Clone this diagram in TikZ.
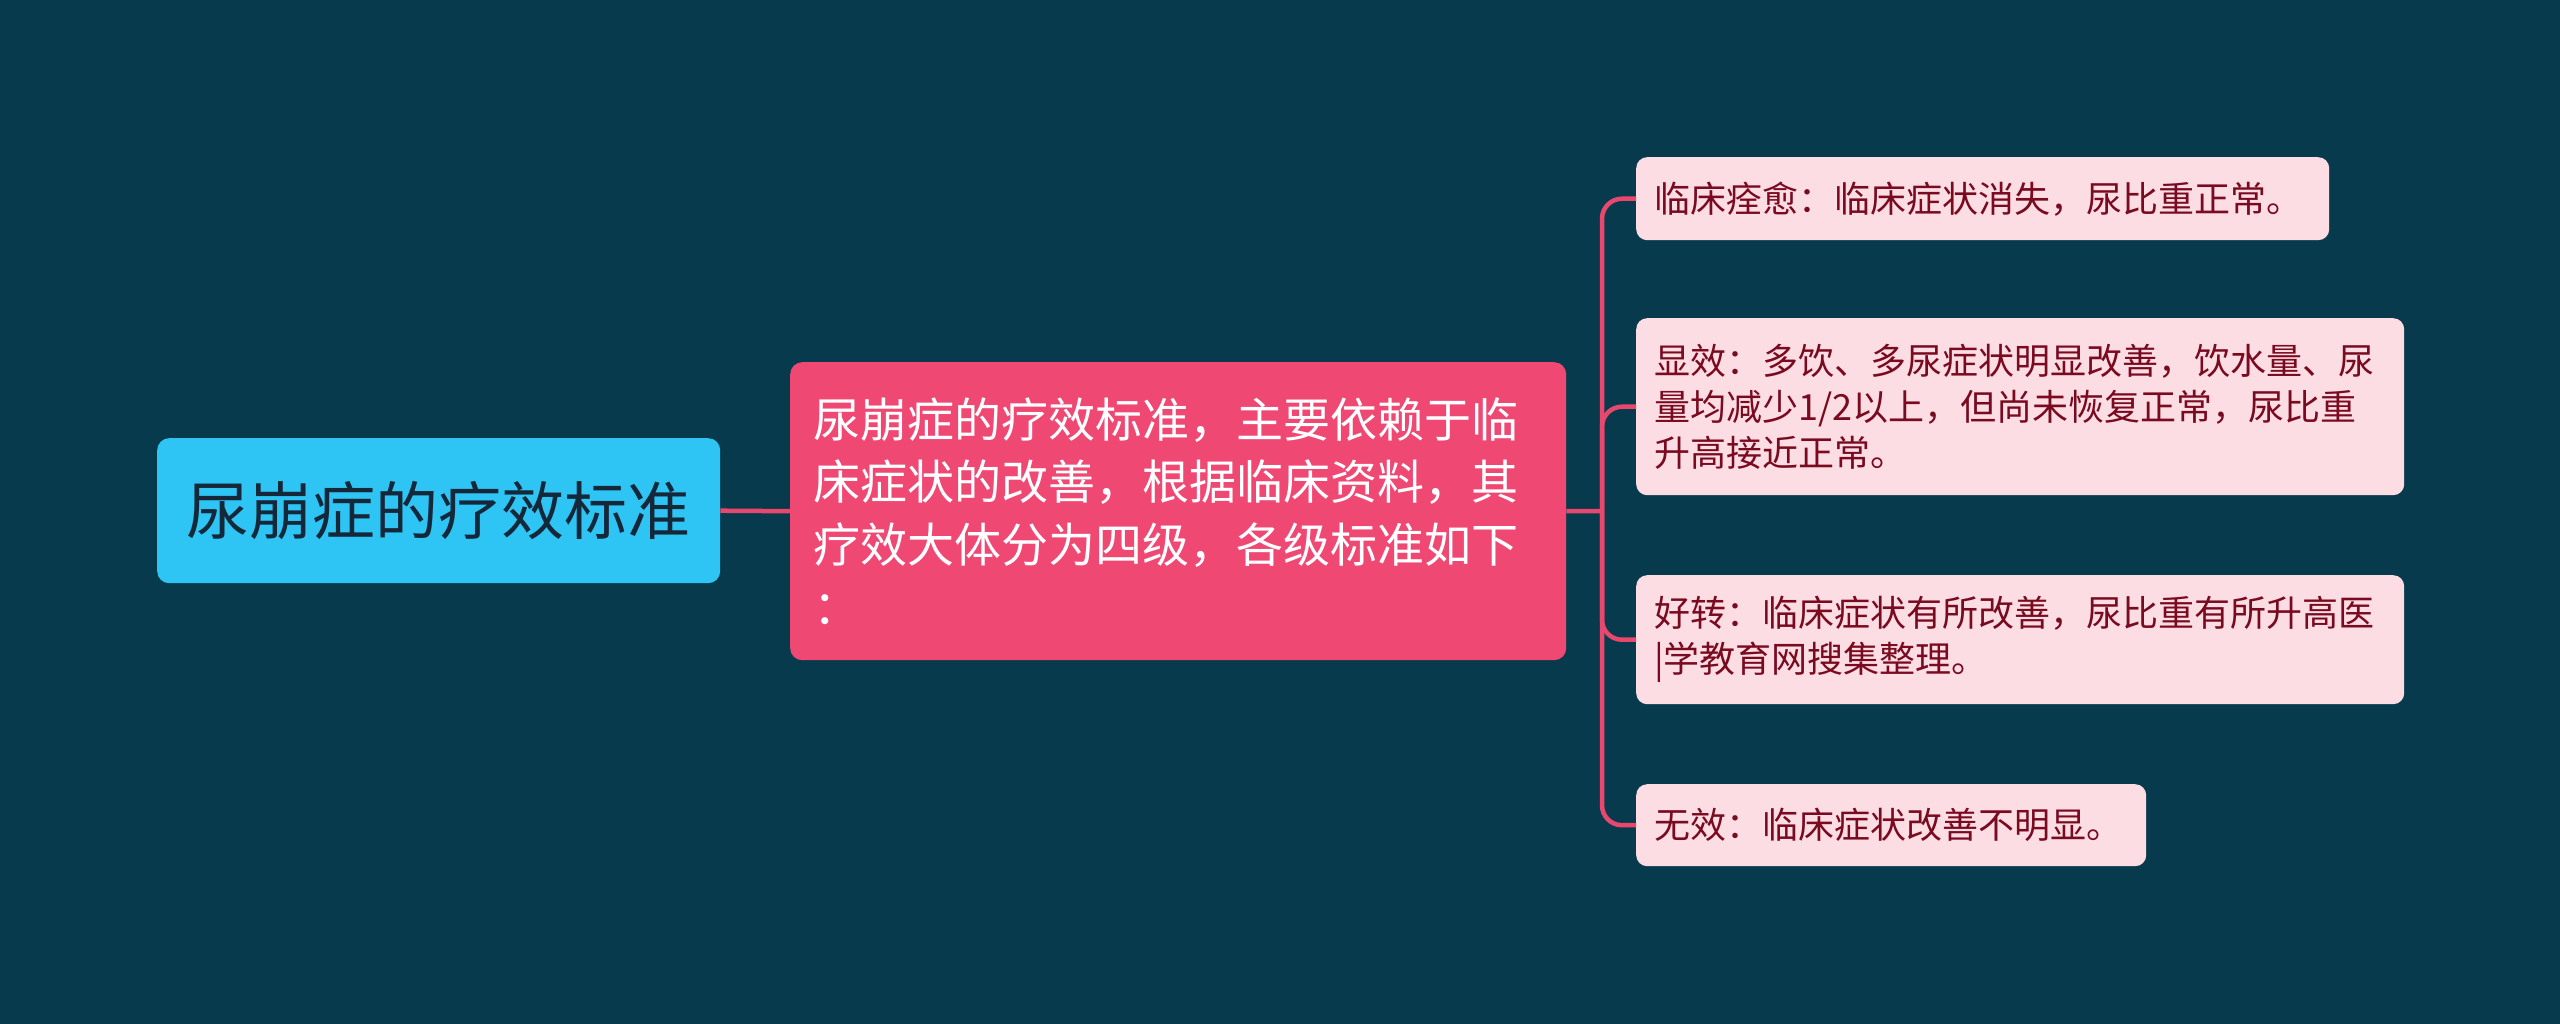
\documentclass[tikz,border=0pt]{standalone}
\usepackage{fontspec}
\setmainfont{Noto Sans CJK SC}
\definecolor{bgc}{HTML}{073A4C}
\definecolor{rootc}{HTML}{2EC4F4}
\definecolor{roottxt}{HTML}{14283A}
\definecolor{midc}{HTML}{EF4873}
\definecolor{leafc}{HTML}{FCDDE3}
\definecolor{leaftxt}{HTML}{7A0A20}
\definecolor{linec}{HTML}{E8476E}
\begin{document}
\begin{tikzpicture}[x=1pt,y=-1pt,
  rootbox/.style={fill=rootc,rounded corners=12pt,inner sep=0pt,
    minimum width=563pt,minimum height=145pt,anchor=north west,
    text=roottxt,font=\fontsize{63}{70}\selectfont},
  midbox/.style={fill=midc,rounded corners=12pt,inner xsep=23pt,inner ysep=0pt,
    text width=730pt,minimum height=298pt,anchor=north west,align=left,
    text=white,font=\fontsize{47}{62.5}\selectfont},
  leafbox/.style={fill=leafc,rounded corners=11pt,inner xsep=18pt,inner ysep=0pt,
    anchor=north west,align=left,
    text=leaftxt,font=\fontsize{36}{46}\selectfont},
  conn/.style={draw=linec,line width=4.5pt},
  branch/.style={draw=linec,line width=4.5pt,rounded corners=20pt}]
\fill[bgc] (0,0) rectangle (2560,1024);
\useasboundingbox (0,0) rectangle (2560,1024);

\node[rootbox] (root) at (157,438) {尿崩症的疗效标准};
\node[midbox] (mid) at (790,362) {尿崩症的疗效标准，主要依赖于临\\床症状的改善，根据临床资料，其\\疗效大体分为四级，各级标准如下\\：};

\node[leafbox,text width=657pt,minimum height=83pt] (c1) at (1636,157) {临床痊愈：临床症状消失，尿比重正常。};
\node[leafbox,text width=732pt,minimum height=177pt] (c2) at (1636,318) {显效：多饮、多尿症状明显改善，饮水量、尿\\量均减少1/2以上，但尚未恢复正常，尿比重\\升高接近正常。};
\node[leafbox,text width=732pt,minimum height=129pt] (c3) at (1636,575) {好转：临床症状有所改善，尿比重有所升高医\\|学教育网搜集整理。};
\node[leafbox,text width=474pt,minimum height=82pt] (c4) at (1636,784) {无效：临床症状改善不明显。};

\coordinate (j) at (1602,511);
\draw[conn] (root.east) -- (mid.west);
\draw[conn] (mid.east) -- (j);
\draw[branch] (j) |- (c1.west);
\draw[branch] (j) |- (c2.west);
\draw[branch] (j) |- (c3.west);
\draw[branch] (j) |- (c4.west);
\end{tikzpicture}
\end{document}
